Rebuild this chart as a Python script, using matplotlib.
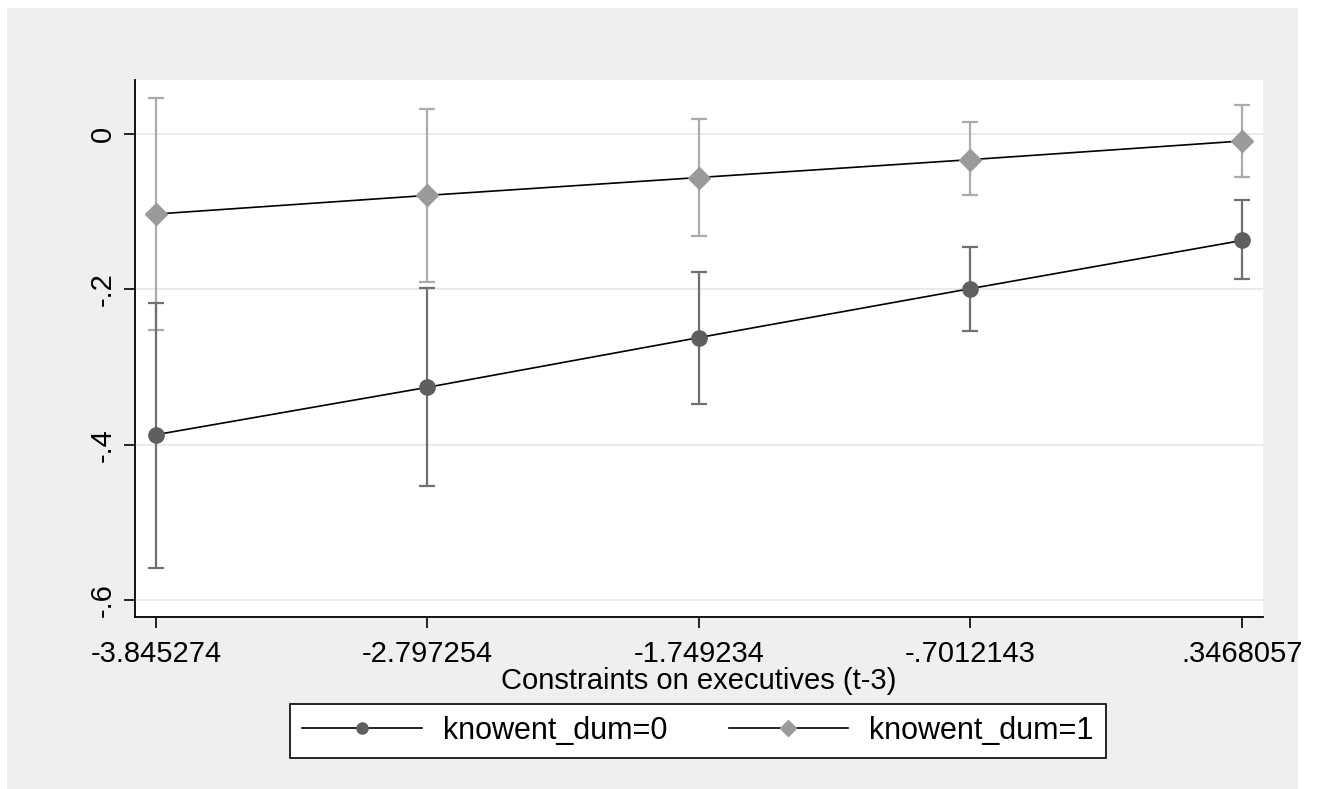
import matplotlib
matplotlib.use("Agg")
import matplotlib.pyplot as plt
from matplotlib.lines import Line2D
from matplotlib.patches import Rectangle

plt.rcParams['font.family'] = ['Liberation Sans', 'DejaVu Sans']

# margins at the values of constraints on executives
xvals = [-3.845274, -2.797254, -1.749234, -0.7012143, 0.3468057]
xlabels = ['-3.845274', '-2.797254', '-1.749234', '-.7012143', '.3468057']

# knowent_dum=0
est0 = [-0.387, -0.326, -0.262, -0.199, -0.137]
lo0 = [-0.559, -0.453, -0.348, -0.253, -0.187]
hi0 = [-0.218, -0.198, -0.177, -0.145, -0.085]

# knowent_dum=1
est1 = [-0.103, -0.079, -0.056, -0.033, -0.009]
lo1 = [-0.252, -0.191, -0.131, -0.079, -0.055]
hi1 = [0.046, 0.032, 0.019, 0.015, 0.037]

yticks = [0, -0.2, -0.4, -0.6]
ylabels = ['0', '-.2', '-.4', '-.6']

FS = 21

fig = plt.figure(figsize=(13.27, 7.89), dpi=100)
fig.patch.set_facecolor('white')
bg = Rectangle((7/1327, -0.01), 1291/1327, 781/789 + 0.01, transform=fig.transFigure,
               facecolor='#efefef', edgecolor='none', zorder=-10)
fig.add_artist(bg)

ax = fig.add_axes([135/1327, 172/789, 1128/1327, 537/789])
ax.set_facecolor('white')

c0, c0ci = '#5f5f5f', '#707070'
c1, c1ci = '#9a9a9a', '#ababab'

def draw(est, lo, hi, mk, col, cicol, ms):
    yerr = [[e - l for e, l in zip(est, lo)], [h - e for e, h in zip(est, hi)]]
    ax.errorbar(xvals, est, yerr=yerr, fmt='none', ecolor=cicol, elinewidth=1.6,
                capsize=5.5, capthick=1.6, zorder=2)
    ax.plot(xvals, est, color='black', lw=1.2, zorder=3)
    ax.plot(xvals, est, linestyle='none', marker=mk, ms=ms, color=col, mec=col, zorder=4)

draw(est1, lo1, hi1, 'D', c1, c1ci, 11.5)
draw(est0, lo0, hi0, 'o', c0, c0ci, 11)

ax.set_xlim(-3.926, 0.428)
ax.set_ylim(-0.6216, 0.0695)
ax.set_xticks(xvals)
ax.set_xticklabels(xlabels, fontsize=FS)
ax.set_yticks(yticks)
ax.set_yticklabels(ylabels, fontsize=FS, rotation=90, va='center')
ax.grid(axis='y', color='#e6e6e6', lw=1.2)
ax.set_axisbelow(True)
ax.tick_params(axis='x', direction='out', length=8, width=1.2, color='black', pad=8.5)
ax.tick_params(axis='y', direction='out', length=8, width=1.2, color='black', pad=5)
for s in ['top', 'right']:
    ax.spines[s].set_visible(False)
for s in ['left', 'bottom']:
    ax.spines[s].set_linewidth(1.3)
ax.set_xlabel('Constraints on executives (t-3)', fontsize=FS, labelpad=-1)

handles = [Line2D([], [], color='black', lw=1.2, marker='o', ms=8, mfc=c0, mec=c0),
           Line2D([], [], color='black', lw=1.2, marker='D', ms=8, mfc=c1, mec=c1)]
leg = fig.legend(handles, ['knowent_dum=0', 'knowent_dum=1'], ncol=2,
                 loc='center', bbox_to_anchor=(698/1327, 1 - 731/789),
                 fontsize=22, frameon=True, fancybox=False, edgecolor='black',
                 framealpha=1, handlelength=3.9, handletextpad=0.7, columnspacing=2.0,
                 borderpad=0.4, borderaxespad=0)
leg.get_frame().set_linewidth(1.2)

fig.savefig('out.png', dpi=100, facecolor=fig.get_facecolor())
